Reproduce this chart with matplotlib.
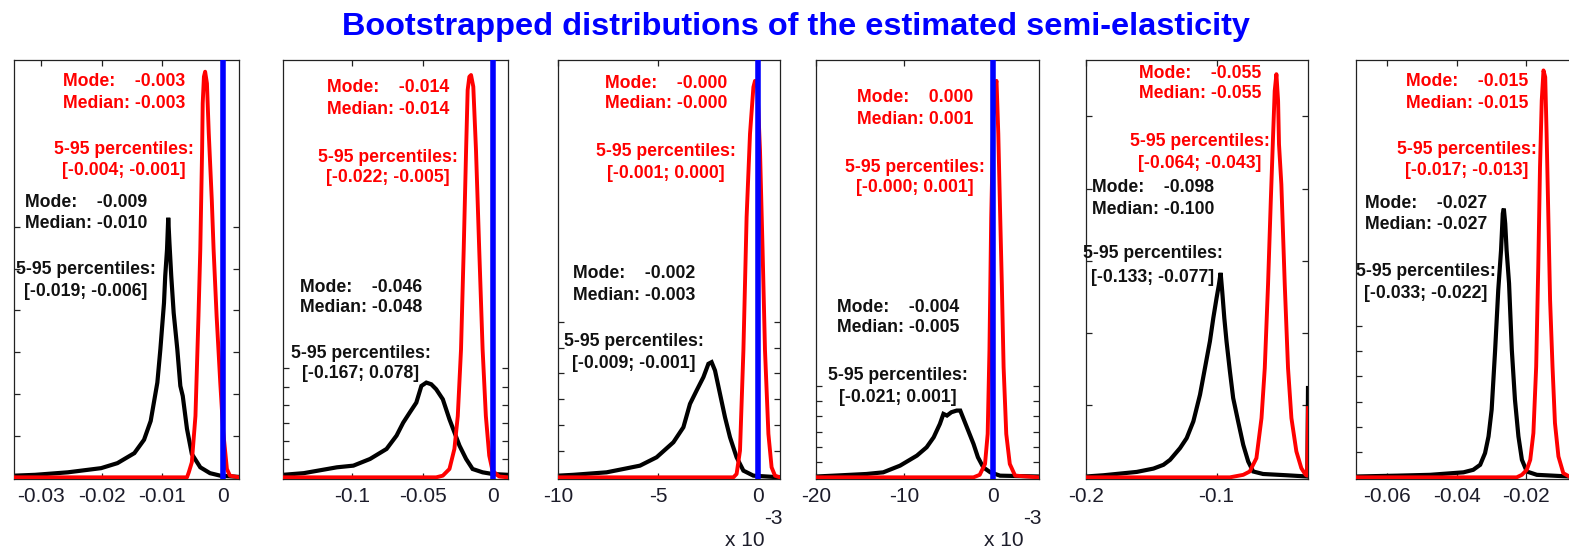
import matplotlib
matplotlib.use('Agg')
import matplotlib.pyplot as plt
import numpy as np

plt.rcParams['font.family'] = ['Liberation Sans', 'DejaVu Sans']

# ---------------- data (y = normalised density) ----------------
p1_black_x = [-0.0345, -0.0310, -0.0256, -0.0201, -0.0174, -0.0146, -0.0130, -0.0119, -0.0108, -0.0103,
              -0.0097, -0.0095, -0.0092, -0.0090, -0.0088, -0.0085, -0.0081, -0.0075, -0.0070, -0.0066,
              -0.0059, -0.0051, -0.0037, -0.0021, -0.0004, 0.0027]
p1_black_y = [0.004, 0.006, 0.012, 0.022, 0.034, 0.058, 0.090, 0.135, 0.227, 0.307,
              0.418, 0.482, 0.546, 0.622, 0.562, 0.482, 0.394, 0.307, 0.219, 0.195,
              0.116, 0.056, 0.024, 0.010, 0.004, 0.001]
p1_red_x = [-0.0345, -0.0059, -0.0056, -0.0051, -0.0045, -0.0040, -0.0037, -0.0034, -0.0033, -0.0031,
            -0.0029, -0.0026, -0.0023, -0.0018, -0.0015, -0.0010, -0.0004, 0.0001, 0.0007, 0.0012, 0.0027]
p1_red_y = [0.0, 0.0, 0.012, 0.036, 0.147, 0.386, 0.546, 0.785, 0.896, 0.960,
            0.972, 0.944, 0.825, 0.665, 0.546, 0.386, 0.227, 0.108, 0.020, 0.004, 0.0]

p2_black_x = [-0.149, -0.1343, -0.1108, -0.0991, -0.0873, -0.0756, -0.0685, -0.0638, -0.0592, -0.0545,
              -0.0509, -0.0474, -0.0439, -0.0404, -0.0357, -0.0310, -0.0275, -0.0239, -0.0192, -0.0146,
              -0.0075, -0.0005, 0.0105]
p2_black_y = [0.006, 0.010, 0.024, 0.028, 0.044, 0.068, 0.100, 0.131, 0.155, 0.179,
              0.219, 0.227, 0.223, 0.211, 0.187, 0.139, 0.108, 0.076, 0.044, 0.020,
              0.012, 0.008, 0.006]
p2_red_x = [-0.149, -0.0404, -0.0357, -0.0310, -0.0275, -0.0251, -0.0228, -0.0209, -0.0192, -0.0181,
            -0.0169, -0.0157, -0.0141, -0.0122, -0.0099, -0.0075, -0.0052, -0.0028, -0.0005, 0.0042, 0.0105]
p2_red_y = [0.0, 0.0, 0.004, 0.020, 0.068, 0.147, 0.307, 0.546, 0.785, 0.928,
            0.960, 0.964, 0.936, 0.785, 0.546, 0.307, 0.147, 0.052, 0.016, 0.002, 0.0]

p3_black_x = [-0.0100, -0.00923, -0.00757, -0.00673, -0.0059, -0.00507, -0.00423, -0.00373, -0.0034, -0.00307,
              -0.00273, -0.00248, -0.00232, -0.00215, -0.0019, -0.00165, -0.0014, -0.00107, -0.00073, -0.00023, 0.0011]
p3_black_y = [0.004, 0.006, 0.012, 0.020, 0.028, 0.048, 0.084, 0.120, 0.176, 0.208,
              0.240, 0.272, 0.276, 0.256, 0.200, 0.144, 0.096, 0.048, 0.016, 0.004, 0.0]
p3_red_x = [-0.0100, -0.00123, -0.00107, -0.0009, -0.00073, -0.00057, -0.0004, -0.00023, -0.00015, -0.00003,
            0.0001, 0.00023, 0.00035, 0.00052, 0.00068, 0.00085, 0.0011]
p3_red_y = [0.0, 0.0, 0.008, 0.064, 0.304, 0.623, 0.823, 0.935, 0.950, 0.935,
            0.783, 0.543, 0.304, 0.104, 0.024, 0.004, 0.0]

p4_black_x = [-0.0200, -0.0180, -0.0143, -0.0124, -0.0105, -0.0086, -0.0075, -0.0067, -0.0060, -0.0056,
              -0.0052, -0.0047, -0.0041, -0.0037, -0.0034, -0.0028, -0.0022, -0.0017, -0.0011, -0.0003,
              0.0008, 0.0052]
p4_black_y = [0.002, 0.004, 0.008, 0.012, 0.028, 0.052, 0.072, 0.096, 0.128, 0.152,
              0.148, 0.156, 0.160, 0.160, 0.144, 0.112, 0.080, 0.048, 0.024, 0.012,
              0.004, 0.002]
p4_red_x = [-0.0200, -0.0022, -0.0015, -0.0009, -0.0006, -0.0004, -0.0002, 0.00004, 0.0003, 0.0004,
            0.0006, 0.0008, 0.0010, 0.0012, 0.0015, 0.0019, 0.0025, 0.0052]
p4_red_y = [0.0, 0.0, 0.006, 0.032, 0.104, 0.304, 0.623, 0.863, 0.942, 0.950,
            0.823, 0.639, 0.463, 0.264, 0.104, 0.032, 0.004, 0.0]

p5_black_x = [-0.2000, -0.1865, -0.1611, -0.1483, -0.1407, -0.1356, -0.1280, -0.1229, -0.1178, -0.1127,
              -0.1089, -0.1051, -0.1025, -0.1000, -0.0982, -0.0969, -0.0957, -0.0941, -0.0924, -0.0898,
              -0.0873, -0.0835, -0.0796, -0.0758, -0.0720, -0.0644, -0.0466, -0.0305, -0.0300]
p5_black_y = [0.002, 0.005, 0.013, 0.021, 0.030, 0.042, 0.070, 0.094, 0.134, 0.198,
              0.262, 0.326, 0.382, 0.430, 0.462, 0.490, 0.446, 0.382, 0.326, 0.254,
              0.190, 0.134, 0.078, 0.038, 0.014, 0.008, 0.005, 0.002, 0.214]
p5_red_x = [-0.2000, -0.0898, -0.0796, -0.0746, -0.0695, -0.0656, -0.0631, -0.0606, -0.0585, -0.0567,
            -0.0555, -0.0542, -0.0529, -0.0522, -0.0504, -0.0478, -0.0453, -0.0427, -0.0389, -0.0351,
            -0.0318, -0.0306, -0.0300]
p5_red_y = [0.0, 0.0, 0.006, 0.014, 0.046, 0.142, 0.262, 0.462, 0.662, 0.822,
            0.926, 0.966, 0.902, 0.798, 0.702, 0.462, 0.262, 0.142, 0.062, 0.022,
            0.006, 0.004, 0.166]

p6_black_x = [-0.0689, -0.0572, -0.0476, -0.0428, -0.0380, -0.0352, -0.0332, -0.0318, -0.0308, -0.0299,
              -0.0289, -0.0280, -0.0272, -0.0267, -0.0264, -0.0260, -0.0256, -0.0249, -0.0241, -0.0232,
              -0.0222, -0.0212, -0.0198, -0.0169, -0.0076, -0.0035]
p6_black_y = [0.002, 0.004, 0.006, 0.009, 0.012, 0.018, 0.030, 0.058, 0.098, 0.162,
              0.305, 0.449, 0.544, 0.632, 0.644, 0.608, 0.544, 0.465, 0.305, 0.186,
              0.098, 0.042, 0.014, 0.006, 0.002, 0.0]
p6_red_x = [-0.0689, -0.0227, -0.0212, -0.0198, -0.0188, -0.0179, -0.0171, -0.0165, -0.0160, -0.0155,
            -0.0150, -0.0145, -0.0141, -0.0136, -0.0131, -0.0124, -0.0117, -0.0107, -0.0093, -0.0076, -0.0035]
p6_red_y = [0.0, 0.0, 0.006, 0.018, 0.042, 0.106, 0.265, 0.504, 0.743, 0.903,
            0.975, 0.959, 0.823, 0.624, 0.425, 0.265, 0.130, 0.050, 0.010, 0.002, 0.0]

# x-axis limits, ticks and labels
x_limits = [(-0.0345, 0.0027), (-0.149, 0.0105), (-0.0100, 0.0011),
            (-0.0200, 0.0052), (-0.2000, -0.0300), (-0.0689, -0.0045)]
x_ticks = [[-0.03, -0.02, -0.01, 0.0], [-0.1, -0.05, 0.0], [-0.010, -0.005, 0.0],
           [-0.020, -0.010, 0.0], [-0.2, -0.1], [-0.06, -0.04, -0.02]]
x_tick_labels = [['-0.03', '-0.02', '-0.01', '0'], ['-0.1', '-0.05', '0'], ['-10', '-5', '0'],
                 ['-20', '-10', '0'], ['-0.2', '-0.1'], ['-0.06', '-0.04', '-0.02']]
zero_line = [True, True, True, True, False, False]
scale_note = [False, False, True, True, False, False]

# annotation values
red_mode = ['-0.003', '-0.014', '-0.000', '0.000', '-0.055', '-0.015']
red_median = ['-0.003', '-0.014', '-0.000', '0.001', '-0.055', '-0.015']
red_p5 = ['-0.004', '-0.022', '-0.001', '-0.000', '-0.064', '-0.017']
red_p95 = ['-0.001', '-0.005', '0.000', '0.001', '-0.043', '-0.013']
black_mode = ['-0.009', '-0.046', '-0.002', '-0.004', '-0.098', '-0.027']
black_median = ['-0.010', '-0.048', '-0.003', '-0.005', '-0.100', '-0.027']
black_p5 = ['-0.019', '-0.167', '-0.009', '-0.021', '-0.133', '-0.033']
black_p95 = ['-0.006', '0.078', '-0.001', '0.001', '-0.077', '-0.022']

title = 'Bootstrapped distributions of the estimated semi-elasticity'

# ---------------- layout / style ----------------
W, H = 1569, 552
ax_left_px = [14, 283, 558, 816, 1086, 1356]
ax_right_px = [239, 508, 780, 1039, 1308, 1580]
top_px, bot_px = 60, 479
ytick_step = [0.1, 0.0435, 0.0622, 0.0366, 0.173, 0.0605]
ytick_count = [6, 6, 6, 6, 5, 6]
red_text_x = [124, 388, 666, 915, 1200, 1467]
red_text_y = [(82, 103, 150, 171), (88, 109, 157, 178), (83, 103, 152, 173),
              (98, 120, 168, 188), (73, 94, 141, 163), (82, 103, 149, 171)]
black_text_x = [86, 361, 634, 898, 1153, 1426]
black_text_y = [(202, 223, 270, 291), (287, 308, 354, 374), (273, 295, 342, 363),
                (307, 328, 375, 397), (187, 209, 254, 277), (204, 225, 272, 293)]

blacks = [(p1_black_x, p1_black_y), (p2_black_x, p2_black_y), (p3_black_x, p3_black_y),
          (p4_black_x, p4_black_y), (p5_black_x, p5_black_y), (p6_black_x, p6_black_y)]
reds = [(p1_red_x, p1_red_y), (p2_red_x, p2_red_y), (p3_red_x, p3_red_y),
        (p4_red_x, p4_red_y), (p5_red_x, p5_red_y), (p6_red_x, p6_red_y)]

RED = '#ff0000'
BLK = '#111111'
TXT_FS = 12.7
TICK_FS = 15

fig = plt.figure(figsize=(W / 100, H / 100), dpi=100)
fig.patch.set_facecolor('white')


def fx(px):
    return px / W


def fy(py):
    return 1 - py / H


for i in range(6):
    l, r = ax_left_px[i], ax_right_px[i]
    ax = fig.add_axes([fx(l), fy(bot_px), (r - l) / W, (bot_px - top_px) / H])
    bx, by = blacks[i]
    rx, ry = reds[i]
    ax.plot(bx, by, color='black', lw=3.0, solid_joinstyle='miter', zorder=2)
    ax.plot(rx, ry, color=RED, lw=2.8, zorder=3)
    if zero_line[i]:
        ax.axvline(0.0, color='#0000ff', lw=4.0, zorder=4)
    ax.set_xlim(*x_limits[i])
    ax.set_ylim(-0.004, 1.0)
    ax.set_xticks(x_ticks[i])
    ax.set_xticklabels(x_tick_labels[i])
    ax.set_yticks(np.arange(1, ytick_count[i] + 1) * ytick_step[i])
    ax.set_yticklabels([])
    ax.tick_params(axis='both', direction='in', length=4, width=0.9, color='#222222',
                   top=True, right=True, labelsize=TICK_FS, labelcolor='#1c1c2a', pad=5.5)
    for s in ax.spines.values():
        s.set_color('#222222')
        s.set_linewidth(0.9)

    # annotations
    tx = red_text_x[i]
    ys = red_text_y[i]
    lines = ['Mode:    ' + red_mode[i], 'Median: ' + red_median[i],
             '5-95 percentiles:', '[' + red_p5[i] + '; ' + red_p95[i] + ']']
    for t, yy in zip(lines, ys):
        fig.text(fx(tx), fy(yy), t, color=RED, fontsize=TXT_FS, fontweight='bold',
                 ha='center', va='center', zorder=10)
    tx = black_text_x[i]
    ys = black_text_y[i]
    lines = ['Mode:    ' + black_mode[i], 'Median: ' + black_median[i],
             '5-95 percentiles:', '[' + black_p5[i] + '; ' + black_p95[i] + ']']
    for t, yy in zip(lines, ys):
        fig.text(fx(tx), fy(yy), t, color=BLK, fontsize=TXT_FS, fontweight='bold',
                 ha='center', va='center', zorder=10)

    if scale_note[i]:
        fig.text(fx(r - 55), fy(541), 'x 10', fontsize=TICK_FS, color='#1c1c2a',
                 ha='left', va='center')
        fig.text(fx(r - 16), fy(519), '-3', fontsize=TICK_FS, color='#1c1c2a',
                 ha='left', va='center')

fig.text(fx(796), fy(35), title, color='#0000ff', fontsize=23.4, fontweight='bold',
         ha='center', va='baseline')

fig.savefig('out.png', dpi=100)
